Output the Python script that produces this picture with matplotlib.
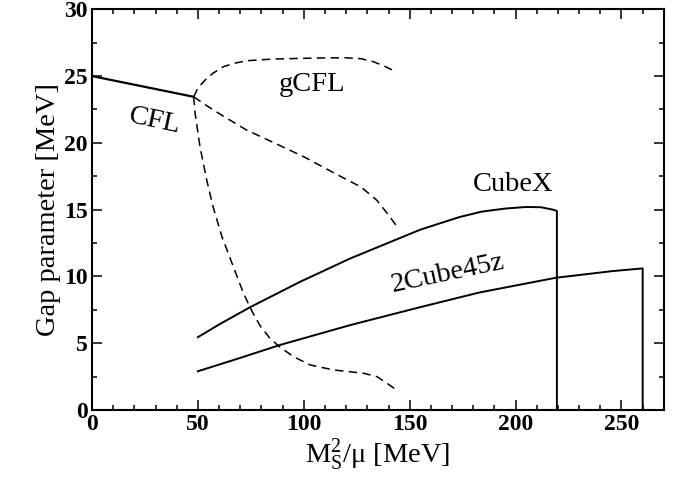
import matplotlib
matplotlib.use("Agg")
import matplotlib.pyplot as plt
from matplotlib.ticker import MultipleLocator

plt.rcParams['font.family'] = ['Liberation Serif', 'DejaVu Serif']
plt.rcParams['mathtext.fontset'] = 'custom'
plt.rcParams['mathtext.rm'] = 'Liberation Serif'
plt.rcParams['mathtext.it'] = 'Liberation Serif:italic'

# CFL (solid)
cfl_x = [0, 48]
cfl_y = [25.0, 23.45]

# gCFL upper branch (dashed)
gcfl_up_x = [48, 50, 53.4, 57, 62, 67, 73, 85, 97, 110, 120, 127, 133, 138, 142.5]
gcfl_up_y = [23.45, 24.1, 24.7, 25.2, 25.7, 25.95, 26.15, 26.27, 26.32, 26.36, 26.37, 26.3, 26.07, 25.75, 25.4]

# gCFL middle branch (dashed)
gcfl_mid_x = [48, 54, 62, 73, 84, 100, 116, 127, 134.5, 140, 143.7]
gcfl_mid_y = [23.45, 22.8, 22.0, 20.96, 20.15, 18.96, 17.6, 16.7, 15.7, 14.6, 13.8]

# gCFL lower branch (dashed)
gcfl_low_x = [48, 48.7, 51, 54.2, 57.2, 61.3, 66.8, 71.5, 75.5, 79.4, 84.1, 88.8, 95.1, 103, 114, 128.2, 134.5, 139.3, 143.7]
gcfl_low_y = [23.45, 22.2, 19.7, 17.2, 15.2, 13.0, 10.7, 8.75, 7.4, 6.3, 5.35, 4.7, 4.0, 3.37, 3.0, 2.75, 2.5, 2.0, 1.5]

# CubeX (solid)
cubex_x = [50, 60, 74.7, 98.3, 122, 155, 173.6, 184, 195, 205, 212, 217.6, 219.5, 219.5]
cubex_y = [5.45, 6.4, 7.7, 9.6, 11.35, 13.5, 14.45, 14.85, 15.08, 15.2, 15.18, 15.0, 14.9, 0]

# 2Cube45z (solid)
c2_x = [50, 70, 88.8, 122, 155, 183, 219, 245.8, 260, 260]
c2_y = [2.9, 3.9, 4.87, 6.36, 7.7, 8.8, 9.9, 10.4, 10.6, 0]

fig = plt.figure(figsize=(6.89, 4.82), dpi=100)
ax = fig.add_axes([0.1335, 0.1494, 0.830, 0.8313])

lw = 1.4
dash = (0, (5.5, 3.5))
ax.plot(cfl_x, cfl_y, color='black', lw=1.6)
ax.plot(gcfl_up_x, gcfl_up_y, color='black', lw=1.1, linestyle=dash)
ax.plot(gcfl_mid_x, gcfl_mid_y, color='black', lw=1.1, linestyle=dash)
ax.plot(gcfl_low_x, gcfl_low_y, color='black', lw=1.1, linestyle=dash)
ax.plot(cubex_x, cubex_y, color='black', lw=lw)
ax.plot(c2_x, c2_y, color='black', lw=lw)

fs = 20.5
ax.text(29.5, 21.6, 'CFL', fontsize=fs, rotation=-12, ha='center', va='center')
ax.text(104, 24.4, 'gCFL', fontsize=fs, ha='center', va='center')
ax.text(199, 16.9, 'CubeX', fontsize=fs, ha='center', va='center')
ax.text(168, 10.2, '2Cube45z', fontsize=fs, rotation=12, ha='center', va='center')

ax.set_xlim(0, 270)
ax.set_ylim(0, 30)
ax.xaxis.set_major_locator(MultipleLocator(50))
ax.xaxis.set_minor_locator(MultipleLocator(10))
ax.yaxis.set_major_locator(MultipleLocator(5))
ax.yaxis.set_minor_locator(MultipleLocator(2.5))
ax.tick_params(which='both', direction='in', top=True, right=True, width=1.1)
ax.tick_params(which='major', length=7, labelsize=17, pad=3)
ax.tick_params(which='minor', length=3.5)
for lab in ax.get_xticklabels() + ax.get_yticklabels():
    lab.set_fontweight('bold')
for sp in ax.spines.values():
    sp.set_linewidth(1.5)

ax.set_xlabel('M$_{\\rm S}^{2}$/\u03bc [MeV]', fontsize=20.5, labelpad=2)
ax.set_ylabel('Gap parameter [MeV]', fontsize=20.5, labelpad=2)

fig.savefig('out.png', dpi=100)
